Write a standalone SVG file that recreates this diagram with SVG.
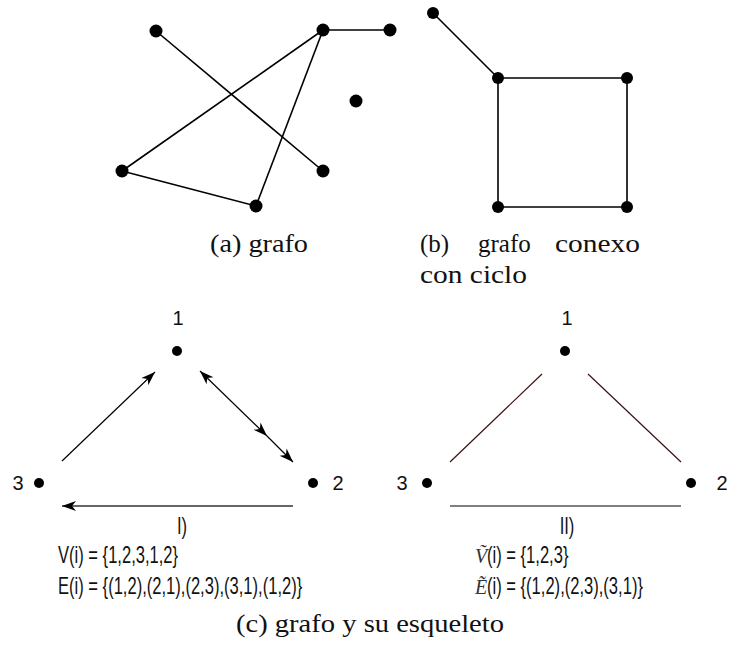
<svg xmlns="http://www.w3.org/2000/svg" width="731" height="650" viewBox="0 0 731 650">
<style>
.n{fill:#000}
.e{stroke:#000;stroke-width:1.6;fill:none}
.a{stroke:#000;stroke-width:1.2;fill:none}
.sk{stroke:#3d1010;stroke-width:1.2;fill:none}
.cap{font-family:"Liberation Serif","Times New Roman",serif;font-size:25px;fill:#111}
.lbl{font-family:"Liberation Sans",Arial,sans-serif;font-size:20px;fill:#111}
.set{font-family:"Liberation Sans",Arial,sans-serif;font-size:23px;fill:#111}
.mi{font-family:"Liberation Serif","Times New Roman",serif;font-style:italic;font-size:20px;fill:#333}
</style>
<defs>
<marker id="ah" markerUnits="userSpaceOnUse" markerWidth="16" markerHeight="12" refX="14" refY="5" orient="auto-start-reverse" overflow="visible">
<path d="M0,0 L14,5 L0,10 L4,5 z" fill="#000"/>
</marker>
</defs>

<g id="connectors">
<!-- (a) -->
<line class="e" x1="156" y1="31" x2="323" y2="171"/>
<line class="e" x1="323" y1="30" x2="390" y2="30"/>
<line class="e" x1="323" y1="30" x2="122" y2="171"/>
<line class="e" x1="323" y1="30" x2="256" y2="206"/>
<line class="e" x1="122" y1="171" x2="256" y2="206"/>
<!-- (b) -->
<line class="e" x1="433" y1="13" x2="498" y2="78"/>
<polygon class="e" points="498,78 627,78 627,207 498,207"/>
<!-- (c) I -->
<line class="a" x1="62" y1="461" x2="155" y2="372" marker-end="url(#ah)"/>
<polyline class="a" points="200,371 267,436 293,462" marker-start="url(#ah)" marker-mid="url(#ah)" marker-end="url(#ah)"/>
<line x1="293" y1="506" x2="62" y2="506" stroke="#333" stroke-width="1.5" marker-end="url(#ah)"/>
<!-- (c) II -->
<line class="sk" x1="542" y1="374" x2="450" y2="462"/>
<line class="sk" x1="588" y1="374" x2="681" y2="462"/>
<line x1="450" y1="506" x2="681" y2="506" stroke="#555" stroke-width="1.5"/>
</g>

<g id="graph-a">
<circle class="n" cx="156" cy="31" r="6.5"/>
<circle class="n" cx="323" cy="30" r="6.5"/>
<circle class="n" cx="390" cy="30" r="6.5"/>
<circle class="n" cx="356" cy="101" r="6.5"/>
<circle class="n" cx="122" cy="171" r="6.5"/>
<circle class="n" cx="323" cy="171" r="6.5"/>
<circle class="n" cx="256" cy="206" r="6.5"/>
<text class="cap" x="210" y="252" textLength="98" lengthAdjust="spacingAndGlyphs">(a) grafo</text>
</g>

<g id="graph-b">
<circle class="n" cx="433" cy="13" r="6"/>
<circle class="n" cx="498" cy="78" r="6"/>
<circle class="n" cx="627" cy="78" r="6"/>
<circle class="n" cx="498" cy="207" r="6"/>
<circle class="n" cx="627" cy="207" r="6"/>
<text class="cap" x="420" y="252">(b)</text>
<text class="cap" x="478" y="252">grafo</text>
<text class="cap" x="555" y="252" textLength="85" lengthAdjust="spacingAndGlyphs">conexo</text>
<text class="cap" x="420" y="283" textLength="107" lengthAdjust="spacingAndGlyphs">con ciclo</text>
</g>

<g id="graph-c1">
<g id="c1-node1"><circle class="n" cx="177" cy="351" r="5"/><text class="lbl" x="178" y="325" text-anchor="middle">1</text></g>
<g id="c1-node2"><circle class="n" cx="313" cy="483" r="5"/><text class="lbl" x="338" y="490" text-anchor="middle">2</text></g>
<g id="c1-node3"><circle class="n" cx="39" cy="483" r="5"/><text class="lbl" x="18" y="490" text-anchor="middle">3</text></g>
<text class="set" transform="translate(182,534) scale(0.72,1)" text-anchor="middle">I)</text>
<text class="set" transform="translate(58,563) scale(0.72,1)">V(i) = {1,2,3,1,2}</text>
<text class="set" transform="translate(58,594) scale(0.72,1)">E(i) = {(1,2),(2,1),(2,3),(3,1),(1,2)}</text>
</g>

<g id="graph-c2">
<g id="c2-node1"><circle class="n" cx="565" cy="351" r="5"/><text class="lbl" x="567" y="325" text-anchor="middle">1</text></g>
<g id="c2-node2"><circle class="n" cx="691" cy="483" r="5"/><text class="lbl" x="722" y="490" text-anchor="middle">2</text></g>
<g id="c2-node3"><circle class="n" cx="427" cy="483" r="5"/><text class="lbl" x="402" y="490" text-anchor="middle">3</text></g>
<text class="set" transform="translate(567,534) scale(0.72,1)" text-anchor="middle">II)</text>
<text class="mi" x="475" y="563">Ṽ</text>
<text class="set" transform="translate(487,563) scale(0.72,1)">(i) = {1,2,3}</text>
<text class="mi" x="475" y="594">Ẽ</text>
<text class="set" transform="translate(487,594) scale(0.72,1)">(i) = {(1,2),(2,3),(3,1)}</text>
</g>

<g id="caption-c">
<text class="cap" x="236" y="632" textLength="268" lengthAdjust="spacingAndGlyphs">(c) grafo y su esqueleto</text>
</g>
</svg>
